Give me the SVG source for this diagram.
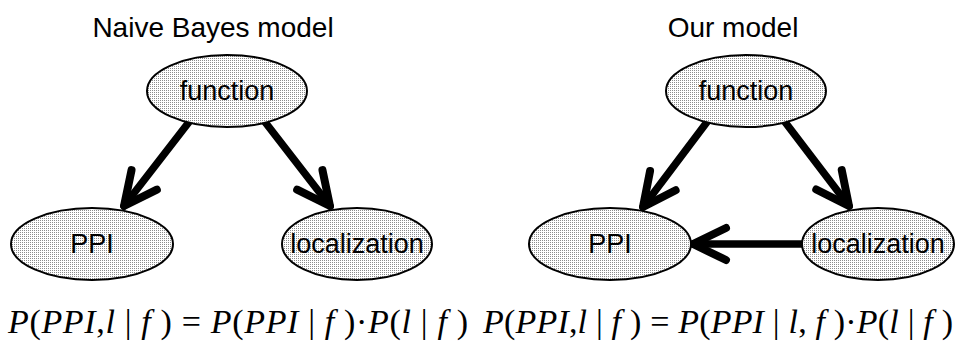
<svg xmlns="http://www.w3.org/2000/svg" width="958" height="348" viewBox="0 0 958 348">
  <defs>
    <!-- stippled light-gray fill used by every node -->
    <pattern id="stipple" width="2" height="2" patternUnits="userSpaceOnUse">
      <rect width="2" height="2" fill="#ffffff"/>
      <rect x="0" y="0" width="1" height="1" fill="#8c8c8c"/>
    </pattern>
    <!-- open V arrowhead drawn with thick round strokes -->
    <marker id="vee" markerUnits="userSpaceOnUse" orient="auto" overflow="visible" refX="0" refY="0" markerWidth="1" markerHeight="1">
      <path d="M -33 -16 L 0 0 L -33 16" fill="none" stroke="#000" stroke-width="8" stroke-linecap="round" stroke-linejoin="round"/>
    </marker>
    <style>
      .node ellipse { fill: url(#stipple); stroke: #000; stroke-width: 2; }
      .node text { font-family: "Liberation Sans", Arial, sans-serif; font-size: 27px; text-anchor: middle; fill: #000; }
      .title { font-family: "Liberation Sans", Arial, sans-serif; font-size: 28px; text-anchor: middle; fill: #000; }
      .edge { fill: none; stroke: #000; stroke-width: 7.5; stroke-linecap: round; marker-end: url(#vee); }
      .eq { font-family: "Liberation Serif", "Times New Roman", serif; font-size: 34px; fill: #000; }
      .eq .i { font-style: italic; }
    </style>
  </defs>

  <!-- panel titles -->
  <text class="title" x="213" y="37">Naive Bayes model</text>
  <text class="title" x="733" y="37">Our model</text>

  <!-- connectors (drawn under the nodes) -->
  <g id="connectors">
    <path class="edge" d="M 189 122 L 124 206"/>
    <path class="edge" d="M 265 122 L 330 206"/>
    <path class="edge" d="M 707 122 L 643 207"/>
    <path class="edge" d="M 785 122 L 849 206"/>
    <path class="edge" d="M 802 244 L 693 244"/>
  </g>

  <!-- naive Bayes nodes -->
  <g id="nb-function" class="node">
    <ellipse cx="227" cy="91" rx="80" ry="36"/>
    <text x="227" y="100">function</text>
  </g>
  <g id="nb-ppi" class="node">
    <ellipse cx="92" cy="244" rx="81" ry="36"/>
    <text x="92" y="253">PPI</text>
  </g>
  <g id="nb-localization" class="node">
    <ellipse cx="357" cy="244" rx="75" ry="36"/>
    <text x="357" y="253">localization</text>
  </g>

  <!-- our model nodes -->
  <g id="our-function" class="node">
    <ellipse cx="746" cy="91" rx="80" ry="36"/>
    <text x="746" y="100">function</text>
  </g>
  <g id="our-ppi" class="node">
    <ellipse cx="610" cy="244" rx="81" ry="36"/>
    <text x="610" y="253">PPI</text>
  </g>
  <g id="our-localization" class="node">
    <ellipse cx="878" cy="244" rx="76" ry="36"/>
    <text x="878" y="253">localization</text>
  </g>

  <!-- factorisations -->
  <text class="eq" x="8" y="333" textLength="460" lengthAdjust="spacing" xml:space="preserve"><tspan class="i">P</tspan>(<tspan class="i">PPI</tspan>,<tspan class="i">l</tspan> | <tspan class="i">f</tspan> ) = <tspan class="i">P</tspan>(<tspan class="i">PPI</tspan> | <tspan class="i">f</tspan> )·<tspan class="i">P</tspan>(<tspan class="i">l</tspan> | <tspan class="i">f</tspan> )</text>
  <text class="eq" x="483" y="333" textLength="470" lengthAdjust="spacing" xml:space="preserve"><tspan class="i">P</tspan>(<tspan class="i">PPI</tspan>,<tspan class="i">l</tspan> | <tspan class="i">f</tspan> ) = <tspan class="i">P</tspan>(<tspan class="i">PPI</tspan> | <tspan class="i">l</tspan>, <tspan class="i">f</tspan> )·<tspan class="i">P</tspan>(<tspan class="i">l</tspan> | <tspan class="i">f</tspan> )</text>
</svg>
